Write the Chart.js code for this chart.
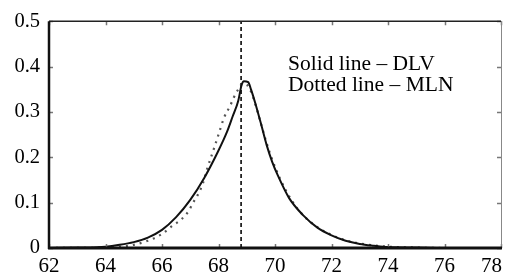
<!DOCTYPE html>
<html>
<head>
<meta charset="utf-8">
<script src="https://cdn.jsdelivr.net/npm/chart.js@4.4.1/dist/chart.umd.min.js"></script>
<style>
html,body{margin:0;padding:0;background:#fff;}
#wrap{width:512px;height:278px;position:relative;}
</style>
</head>
<body>
<div id="wrap"><canvas id="c" width="512" height="278"></canvas></div>
<script>
// ---- data ----
const dlvX = [62, 63, 64, 64.5, 65, 65.5, 66, 66.5, 67, 67.5, 68, 68.3, 68.5, 68.7, 68.82, 68.9, 69.05, 69.15, 69.3, 69.5, 69.7, 69.9, 70.1, 70.5, 71, 71.5, 72, 72.5, 73, 73.5, 74, 75, 76, 78];
const dlvY = [0, 0.001, 0.003, 0.007, 0.013, 0.023, 0.040, 0.068, 0.106, 0.155, 0.215, 0.256, 0.29, 0.325, 0.36, 0.368, 0.366, 0.35, 0.32, 0.275, 0.228, 0.19, 0.16, 0.11, 0.072, 0.045, 0.028, 0.016, 0.009, 0.005, 0.002, 0.001, 0, 0];
const mlnX = [62, 64, 64.5, 65, 65.5, 66, 66.35, 66.7, 66.95, 67.1, 67.3, 67.45, 67.6, 67.8, 68.0, 68.2, 68.4, 68.55, 68.7, 68.85, 69.0, 69.15, 69.3, 69.5, 69.7, 69.9, 70.2, 70.6, 71, 71.5, 72, 72.5, 73, 74, 75, 76, 78];
const mlnY = [0, 0.001, 0.003, 0.007, 0.016, 0.031, 0.048, 0.064, 0.082, 0.100, 0.121, 0.143, 0.175, 0.212, 0.25, 0.288, 0.312, 0.333, 0.35, 0.362, 0.36, 0.345, 0.318, 0.275, 0.232, 0.195, 0.15, 0.104, 0.072, 0.046, 0.029, 0.017, 0.01, 0.003, 0.001, 0, 0];
const markerX = 68.8;
const xTickLabels = ['62', '64', '66', '68', '70', '72', '74', '76', '78'];
const yTickLabels = ['0', '0.1', '0.2', '0.3', '0.4', '0.5'];
const noteLines = ['Solid line \u2013 DLV', 'Dotted line \u2013 MLN'];

const toPts = (xs, ys) => xs.map((x, i) => ({x: x, y: ys[i]}));
const FONT = 'Liberation Serif, Times New Roman, serif';

const framePlugin = {
  id: 'frame',
  afterDraw(chart) {
    const ctx = chart.ctx, a = chart.chartArea;
    const xs = chart.scales.x, ys = chart.scales.y;
    ctx.save();
    // inward ticks
    ctx.strokeStyle = '#777';
    ctx.lineWidth = 1.5;
    xTickLabels.forEach(l => {
      const px = Math.round(xs.getPixelForValue(parseFloat(l))) + 0.5;
      ctx.beginPath();
      ctx.moveTo(px, a.bottom); ctx.lineTo(px, a.bottom - 4);
      ctx.moveTo(px, a.top); ctx.lineTo(px, a.top + 4);
      ctx.stroke();
    });
    yTickLabels.forEach(l => {
      const py = Math.round(ys.getPixelForValue(parseFloat(l))) + 0.5;
      ctx.beginPath();
      ctx.moveTo(a.left, py); ctx.lineTo(a.left + 4, py);
      ctx.moveTo(a.right, py); ctx.lineTo(a.right - 4, py);
      ctx.stroke();
    });
    // frame
    ctx.strokeStyle = '#222';
    ctx.lineWidth = 1.5;
    ctx.beginPath(); ctx.moveTo(a.left, a.top); ctx.lineTo(a.right, a.top); ctx.stroke();
    ctx.strokeStyle = '#888';
    ctx.lineWidth = 1;
    ctx.beginPath(); ctx.moveTo(a.right + 0.5, a.top); ctx.lineTo(a.right + 0.5, a.bottom); ctx.stroke();
    ctx.strokeStyle = '#111';
    ctx.lineWidth = 2.5;
    ctx.beginPath(); ctx.moveTo(a.left, a.top); ctx.lineTo(a.left, a.bottom + 1); ctx.stroke();
    ctx.lineWidth = 3;
    ctx.beginPath(); ctx.moveTo(a.left - 1, a.bottom); ctx.lineTo(a.right + 1, a.bottom); ctx.stroke();
    // x tick labels
    ctx.fillStyle = '#000';
    ctx.font = '21px ' + FONT;
    ctx.textBaseline = 'alphabetic';
    xTickLabels.forEach((l, i) => {
      const px = xs.getPixelForValue(parseFloat(l));
      if (i === xTickLabels.length - 1) { ctx.textAlign = 'right'; ctx.fillText(l, px + 1, 272); }
      else { ctx.textAlign = 'center'; ctx.fillText(l, px, 272); }
    });
    // note
    ctx.font = '21.5px ' + FONT;
    ctx.textAlign = 'left';
    const nx = xs.getPixelForValue(70.46);
    const ny = ys.getPixelForValue(0.392);
    ctx.fillText(noteLines[0], nx, ny);
    ctx.fillText(noteLines[1], nx, ny + 21);
    ctx.restore();
  }
};

new Chart(document.getElementById('c'), {
  type: 'scatter',
  data: {
    datasets: [
      { label: 'DLV', data: toPts(dlvX, dlvY), showLine: true, borderColor: '#111', borderWidth: 2, pointRadius: 0, cubicInterpolationMode: 'monotone' },
      { label: 'MLN', data: toPts(mlnX, mlnY), showLine: true, borderColor: '#555', borderWidth: 2.2, borderDash: [2, 5], pointRadius: 0, cubicInterpolationMode: 'monotone' },
      { label: 'marker', data: [{x: markerX, y: 0}, {x: markerX, y: 0.5}], showLine: true, borderColor: '#222', borderWidth: 1.8, borderDash: [4, 3], pointRadius: 0 }
    ]
  },
  options: {
    responsive: false,
    animation: false,
    layout: { padding: { left: 0, right: 11, top: 16, bottom: 0 } },
    plugins: { legend: { display: false }, tooltip: { enabled: false } },
    scales: {
      x: {
        type: 'linear', min: 62, max: 78,
        grid: { display: false, drawTicks: false },
        border: { display: false },
        ticks: { display: false, stepSize: 2 },
        afterFit(s) { s.height = 30; }
      },
      y: {
        type: 'linear', min: 0, max: 0.5,
        grid: { display: false, drawTicks: false },
        border: { display: false },
        ticks: {
          stepSize: 0.1, padding: 9, color: '#000',
          font: { family: FONT, size: 20.5 },
          callback: (v, i) => yTickLabels[i]
        },
        afterFit(s) { s.width = 49; }
      }
    }
  },
  plugins: [framePlugin]
});
</script>
</body>
</html>
